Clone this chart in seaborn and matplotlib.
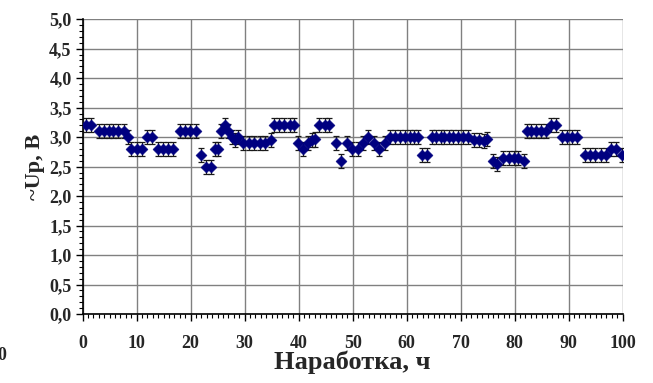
import matplotlib
matplotlib.use("Agg")
import matplotlib.pyplot as plt
import seaborn as sns
import numpy as np
import pandas as pd
from matplotlib.ticker import MultipleLocator, FuncFormatter

# Data
hours = [0.6, 1.6,
         3.0, 3.9, 4.8, 5.7, 6.6, 7.6,
         8.4,
         9.0, 10.0, 10.9,
         11.9, 12.8,
         13.9, 14.9, 15.8, 16.8,
         18.0, 19.0, 19.9, 20.9,
         21.9,
         22.8, 23.8,
         24.5, 25.0,
         25.7, 26.3, 27.0, 27.6, 28.2, 28.8,
         29.7, 30.8, 31.8, 32.8, 33.8,
         34.9,
         35.5, 36.4, 37.3, 38.3, 39.1,
         39.9, 40.8, 41.7, 42.5, 43.1,
         43.8, 44.8, 45.7,
         46.9, 47.9, 48.9, 49.9, 50.9, 51.9, 52.8, 53.9, 54.9, 55.9,
         56.9, 57.8, 58.7, 59.7, 60.6, 61.4, 62.1,
         62.8, 63.7,
         64.6, 65.5, 66.4, 67.0, 67.8, 68.6, 69.5, 70.5, 71.4,
         72.5, 73.4, 74.4, 74.8,
         75.9, 76.7,
         77.9, 78.9, 79.8, 80.7, 81.7,
         82.2, 83.1, 84.0, 84.9, 85.8,
         86.8, 87.7,
         88.8, 89.7, 90.6, 91.6,
         93.0, 94.0, 94.9, 95.9, 96.9,
         97.9, 98.8,
         99.9]
voltage = [3.2, 3.2,
           3.1, 3.1, 3.1, 3.1, 3.1, 3.1,
           3.0,
           2.8, 2.8, 2.8,
           3.0, 3.0,
           2.8, 2.8, 2.8, 2.8,
           3.1, 3.1, 3.1, 3.1,
           2.7,
           2.5, 2.5,
           2.8, 2.8,
           3.1, 3.2, 3.1, 3.0, 2.95, 3.0,
           2.9, 2.9, 2.9, 2.9, 2.9,
           2.95,
           3.2, 3.2, 3.2, 3.2, 3.2,
           2.9, 2.8, 2.9, 2.95, 2.96,
           3.2, 3.2, 3.2,
           2.9, 2.6, 2.9, 2.8, 2.8, 2.9, 3.0, 2.9, 2.8, 2.9,
           3.0, 3.0, 3.0, 3.0, 3.0, 3.0, 3.0,
           2.7, 2.7,
           3.0, 3.0, 3.0, 3.0, 3.0, 3.0, 3.0, 3.0, 3.0,
           2.95, 2.95, 2.93, 2.97,
           2.6, 2.55,
           2.65, 2.65, 2.65, 2.65, 2.6,
           3.1, 3.1, 3.1, 3.1, 3.1,
           3.2, 3.2,
           3.0, 3.0, 3.0, 3.0,
           2.7, 2.7, 2.7, 2.7, 2.7,
           2.8, 2.8,
           2.7]
error = [0.12] * len(hours)

x_label = "Наработка, ч"
y_label = "~Up, B"

df = pd.DataFrame({"t": hours, "u": voltage, "e": error})

sns.set_theme(style="white")
plt.rcParams["font.family"] = ["Liberation Serif", "DejaVu Serif"]
plt.rcParams["font.weight"] = "bold"

fig = plt.figure(figsize=(6.53, 3.83), dpi=100)
ax = fig.add_axes([0.1266, 0.180, 0.8270, 0.770])

ax.errorbar(df["t"], df["u"], yerr=df["e"], fmt="none", ecolor="#1a1a1a",
            elinewidth=0.9, capsize=2.2, capthick=0.9, zorder=2)
sns.scatterplot(data=df, x="t", y="u", marker="D", s=32, color="#000080",
                edgecolor="#000080", linewidth=0.3, ax=ax, zorder=3)

ax.set_xlim(0, 100)
ax.set_ylim(0, 5)
ax.xaxis.set_major_locator(MultipleLocator(10))
ax.xaxis.set_minor_locator(MultipleLocator(1))
ax.yaxis.set_major_locator(MultipleLocator(0.5))
ax.yaxis.set_minor_locator(MultipleLocator(0.1))
ax.yaxis.set_major_formatter(FuncFormatter(lambda v, p: f"{v:.1f}".replace(".", ",")))
ax.xaxis.set_major_formatter(FuncFormatter(lambda v, p: f"{v:.0f}"))

ax.grid(True, which="major", color="#808080", linewidth=1.0)
ax.set_axisbelow(True)

for s in ["top", "right"]:
    ax.spines[s].set_visible(False)
for s in ["left", "bottom"]:
    ax.spines[s].set_visible(True)
    ax.spines[s].set_color("black")
    ax.spines[s].set_linewidth(1.2)

ax.tick_params(axis="both", which="major", direction="out", length=5, width=1.0,
               color="black", labelsize=13, pad=3, bottom=True, left=True)
ax.tick_params(axis="both", which="minor", direction="out", length=3, width=0.8,
               color="black", bottom=True, left=True)
ax.tick_params(axis="x", which="major", pad=10)
for lab in ax.get_xticklabels() + ax.get_yticklabels():
    lab.set_fontweight("bold")

ax.set_xlabel(x_label, fontsize=19, fontweight="bold", labelpad=-1)
ax.set_ylabel(y_label, fontsize=16, fontweight="bold", labelpad=3)

fig.text(-0.004, 0.073, "0", fontsize=13, fontweight="bold", ha="left", va="center")

fig.savefig("out.png", dpi=100)
